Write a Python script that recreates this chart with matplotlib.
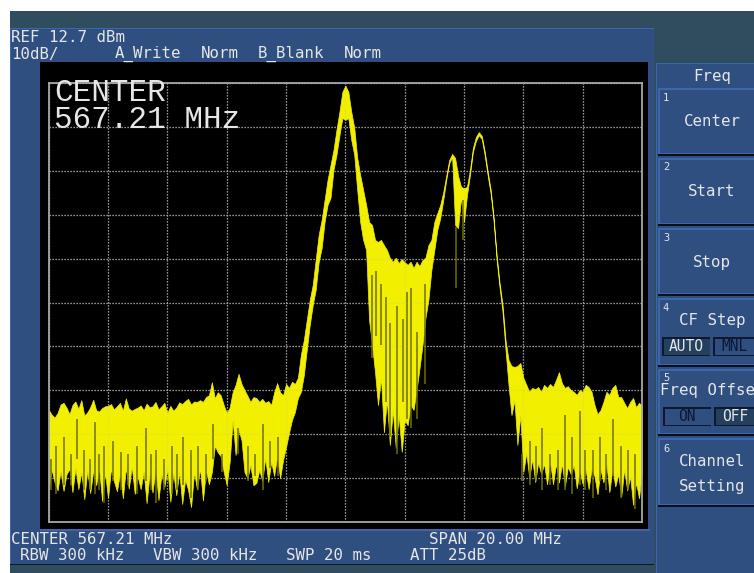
import numpy as np
import matplotlib
matplotlib.use('Agg')
import matplotlib.pyplot as plt
from matplotlib.patches import Rectangle

# Trace: one value per 0.1 MHz over the 20 MHz span (dBm)
center_mhz = 567.21
span_mhz = 20.0
ref_db = 12.7
db_per_div = 10

trace_top = [
    -61.8, -62.9, -63.6, -62.5, -60.6, -60.2, -61.3, -62.8, -60.7, -59.9,
    -61.6, -59.6, -63.1, -62.4, -61.2, -59.5, -61.9, -62.2, -61.4, -61.0,
    -60.9, -60.5, -61.7, -61.0, -60.2, -62.0, -59.2, -61.5, -62.0, -61.6,
    -61.3, -60.8, -61.9, -60.4, -61.2, -61.0, -60.0, -61.7, -61.0, -60.2,
    -62.5, -60.9, -62.0, -61.3, -60.1, -60.5, -59.8, -59.3, -60.6, -59.9,
    -60.0, -59.6, -60.0, -58.9, -58.5, -55.5, -59.2, -57.8, -58.5, -60.7,
    -62.5, -61.3, -57.8, -56.1, -53.6, -55.9, -57.3, -58.6, -60.0, -58.9,
    -59.1, -60.0, -59.3, -60.2, -59.8, -60.7, -57.8, -55.7, -57.8, -58.5,
    -55.9, -56.8, -55.4, -55.9, -54.5, -49.3, -45.9, -41.3, -36.7, -33.3,
    -27.6, -21.9, -18.5, -13.9, -9.3, -5.9, -2.5, 2.1, 6.2, 10.8,
    12.2, 10.8, 6.2, 2.6, -4.3, -8.2, -11.6, -15.0, -18.9, -19.6,
    -23.0, -23.5, -23.0, -24.2, -25.3, -27.1, -28.0, -27.1, -28.3, -27.4,
    -28.1, -28.7, -28.0, -29.4, -28.0, -29.0, -27.6, -27.1, -24.2, -23.0,
    -18.9, -16.9, -15.0, -12.1, -8.4, -4.8, -3.4, -4.3, -8.4, -10.9,
    -11.2, -10.9, -7.0, -2.0, 0.5, 1.6, 0.7, -2.9, -7.5, -11.6,
    -18.0, -26.5, -32.9, -37.9, -45.9, -50.4, -51.8, -52.0, -51.8, -51.1,
    -54.5, -56.1, -57.7, -56.8, -57.1, -56.6, -57.7, -56.1, -56.8, -55.9,
    -56.6, -55.0, -53.2, -55.7, -56.8, -56.4, -57.3, -57.7, -58.4, -57.3,
    -57.7, -56.1, -56.6, -57.7, -60.7, -62.8, -61.9, -60.0, -57.7, -58.4,
    -56.8, -56.1, -58.9, -58.9, -60.2, -61.4, -60.0, -59.1, -61.2, -60.2,
    -60.9,
]
trace_bottom = [
    -80.1, -75.4, -78.4, -80.2, -75.8, -80.3, -76.5, -75.3, -80.6, -75.1,
    -79.9, -76.0, -82.2, -75.6, -80.8, -75.7, -79.0, -75.2, -82.6, -76.2,
    -81.9, -75.3, -78.1, -80.4, -76.3, -82.0, -75.0, -79.8, -74.7, -81.0,
    -77.0, -79.9, -75.9, -83.1, -76.4, -80.7, -75.2, -82.4, -76.6, -79.4,
    -75.2, -82.8, -76.1, -81.3, -75.9, -83.3, -77.7, -80.1, -84.0, -76.0,
    -80.0, -75.1, -82.5, -75.5, -78.8, -76.0, -70.0, -71.5, -72.4, -76.0,
    -79.0, -73.7, -64.1, -72.1, -66.4, -68.7, -76.0, -77.4, -74.4, -79.0,
    -78.5, -75.5, -78.1, -72.8, -78.3, -73.7, -76.9, -72.4, -77.4, -73.3,
    -70.3, -67.1, -64.1, -62.3, -59.1, -57.7, -53.9, -48.1, -42.4, -37.9,
    -34.4, -28.1, -24.9, -18.9, -15.0, -13.4, -7.0, -3.6, 0.9, 4.8,
    4.4, 4.8, -0.2, -3.6, -11.6, -18.9, -23.0, -25.3, -41.3, -47.0,
    -53.2, -60.7, -54.5, -66.9, -59.6, -69.8, -61.9, -70.5, -63.0, -71.4,
    -64.1, -65.3, -60.7, -61.8, -57.3, -52.3, -47.0, -40.8, -36.7, -29.9,
    -25.3, -20.7, -18.0, -13.9, -9.3, -5.5, -4.1, -19.6, -20.3, -13.4,
    -18.9, -12.8, -8.2, -2.9, -0.4, 0.9, 0.0, -3.8, -8.4, -12.5,
    -18.9, -27.6, -34.0, -39.5, -48.1, -56.1, -63.0, -59.6, -69.8, -63.0,
    -76.0, -71.6, -77.4, -73.0, -78.3, -73.8, -76.5, -74.1, -78.8, -73.5,
    -78.8, -74.1, -78.4, -74.0, -79.3, -74.8, -76.5, -74.4, -79.7, -75.7,
    -78.8, -75.4, -79.9, -75.3, -77.0, -81.1, -75.4, -78.4, -74.1, -80.6,
    -75.3, -79.3, -76.5, -81.6, -75.4, -80.2, -77.0, -83.5, -78.4, -82.0,
    -75.5,
]

# Narrow dropouts that show darker over the trace
dropout_freq = [
    557.30, 557.46, 557.73, 557.95, 558.16, 558.40, 558.60, 558.77, 558.92, 559.07,
    559.38, 559.65, 559.90, 560.19, 560.49, 560.66, 560.83, 561.10, 561.37, 561.55,
    561.74, 562.01, 562.24, 562.50, 562.75, 563.05, 563.59, 563.93, 564.15, 564.43,
    564.67, 564.94,
    568.11, 568.41, 568.58, 568.71, 568.95, 569.15, 569.42, 569.62, 569.89, 568.26, 569.28,
    573.15, 573.43, 573.64, 573.84, 574.10, 574.37, 574.61, 574.84, 575.11, 575.30,
    575.55, 575.79, 576.00, 576.23, 576.50, 576.75, 576.97,
    570.94, 571.18,
]
dropout_high = [
    -73.0, -70.0, -68.0, -72.0, -64.0, -71.0, -73.0, -64.5, -72.0, -70.0,
    -69.0, -71.5, -72.0, -70.0, -66.0, -72.0, -71.0, -73.0, -70.0, -72.0,
    -68.0, -71.0, -70.0, -72.0, -65.0, -72.0, -66.0, -70.0, -72.0, -65.0,
    -69.0, -68.0,
    -31.0, -33.0, -36.0, -42.0, -38.0, -41.0, -34.0, -44.0, -33.0, -30.0, -35.0,
    -72.0, -69.0, -70.0, -66.0, -72.0, -71.0, -63.0, -68.0, -62.0, -71.0,
    -71.0, -68.0, -72.0, -64.0, -70.0, -71.0, -72.0,
    -20.0, -14.0,
]
dropout_low = [
    -80.0, -81.0, -79.0, -79.0, -73.0, -80.0, -80.0, -81.0, -80.0, -83.0,
    -78.0, -80.0, -79.0, -81.0, -78.0, -80.0, -83.0, -80.0, -81.0, -80.0,
    -79.0, -82.0, -80.0, -78.0, -73.0, -76.0, -72.0, -78.0, -77.0, -80.0,
    -75.0, -77.0,
    -50.0, -47.0, -60.0, -68.0, -72.0, -60.0, -66.0, -64.0, -56.0, -45.0, -64.0,
    -78.0, -79.0, -78.0, -80.0, -79.0, -80.0, -80.0, -81.0, -79.0, -80.0,
    -82.0, -78.0, -80.0, -77.0, -82.0, -80.0, -84.5,
    -34.0, -23.0,
]

# Screen readouts
readout_left = ['REF 12.7 dBm', '10dB/', 'CENTER 567.21 MHz']
big_readout = ['CENTER', '567.21 MHz']
softkeys = ['Center', 'Start', 'Stop']

freq = np.linspace(center_mhz - span_mhz / 2, center_mhz + span_mhz / 2, len(trace_top))

# Colours of the instrument window
BLUE = '#2f4f80'
LIGHT_BLUE = '#3d66ad'
TEAL = '#2f4d5e'
DARK_KEY = '#24405f'
TEXT = '#e6e6e6'
YELLOW = '#f2f000'

fig = plt.figure(figsize=(7.54, 5.73), dpi=100, facecolor='white')

# Window chrome, drawn in pixel coordinates
bg = fig.add_axes([0, 0, 1, 1])
bg.set_xlim(0, 754)
bg.set_ylim(573, 0)
bg.axis('off')


def box(x0, y0, x1, y1, color, z=1):
    bg.add_patch(Rectangle((x0, y0), x1 - x0, y1 - y0, facecolor=color, edgecolor='none', zorder=z))


def label(x, y, s, size=11.3, color=TEXT, ha='left', family='DejaVu Sans Mono'):
    bg.text(x, y, s, fontsize=size, color=color, ha=ha, va='center', family=family, zorder=5)


box(10, 11, 754, 573, TEAL)
box(10, 28, 654, 564, BLUE)
box(10, 28, 654, 29, LIGHT_BLUE)
box(10, 28, 11, 564, LIGHT_BLUE)
box(10, 564, 654, 565, '#101820')
box(656, 63, 754, 573, BLUE)
box(656, 63, 754, 64, LIGHT_BLUE)
box(656, 63, 657, 573, LIGHT_BLUE)
box(40, 62, 648, 529, 'black', 2)
box(40, 529, 650, 530.5, LIGHT_BLUE, 2)

# Soft keys
for y0, y1 in [(88, 155), (158, 225), (228, 295), (298, 366), (369, 435), (438, 506)]:
    box(658, y0, 754, y1, LIGHT_BLUE, 2)
    box(660, y0 + 2, 754, y1 - 2, BLUE, 3)
    box(658, y1 - 1.5, 754, y1 + 0.5, '#0b0f1a', 3)

for x0, y0, x1, y1, col in [(662, 337, 710, 356, DARK_KEY), (713, 337, 754, 356, BLUE),
                            (663, 407, 711, 426, BLUE), (714, 407, 754, 426, DARK_KEY)]:
    box(x0, y0, x1, y1, '#101830', 3)
    box(x0 + 1.5, y0 + 1.5, x1, y1 - 1, col, 4)

label(11, 38, readout_left[0])
label(11, 54, readout_left[1])
label(115, 54, 'A_Write')
label(201, 54, 'Norm')
label(258, 54, 'B_Blank')
label(344, 54, 'Norm')
label(11, 540, readout_left[2])
label(429, 540, 'SPAN 20.00 MHz')
label(20, 556, 'RBW 300 kHz')
label(153, 556, 'VBW 300 kHz')
label(286, 556, 'SWP 20 ms')
label(410, 556, 'ATT 25dB')

label(712, 77, 'Freq', ha='center')
for y, s in zip([122, 192, 262], softkeys):
    label(712, y, s, ha='center')
label(712, 320, 'CF Step', ha='center')
label(686, 346.5, 'AUTO', ha='center', size=10.5)
label(734, 346.5, 'MNL', ha='center', size=10.5, color='#0d1830')
label(660, 391, 'Freq Offse')
label(687, 416.5, 'ON', ha='center', size=10.5, color='#0d1830')
label(735, 416.5, 'OFF', ha='center', size=10.5)
label(712, 461, 'Channel', ha='center')
label(712, 486, 'Setting', ha='center')
for y, s in zip([98, 167, 238, 308, 378, 449], '123456'):
    label(666, y, s, size=7.5, ha='center')

# Spectrum screen
ax = fig.add_axes([48.7 / 754, 1 - 521.5 / 573, (642 - 48.7) / 754, (521.5 - 83.5) / 573], zorder=2)
ax.set_facecolor('black')
ax.patch.set_alpha(0)
ax.set_xlim(center_mhz - span_mhz / 2, center_mhz + span_mhz / 2)
ax.set_ylim(ref_db - 10 * db_per_div, ref_db)
x_div = np.linspace(center_mhz - span_mhz / 2, center_mhz + span_mhz / 2, 11)
y_div = ref_db - db_per_div * np.arange(11)
ax.set_xticks(x_div)
ax.set_yticks(y_div)
ax.tick_params(length=0, labelbottom=False, labelleft=False)
ax.grid(True, color='#b4b4b4', linestyle=(0, (1, 1.4)), linewidth=0.9)
ax.set_axisbelow(True)
for s in ax.spines.values():
    s.set_color('#a8a8a8')
    s.set_linewidth(1.3)

ax.fill_between(freq, trace_bottom, trace_top, color=YELLOW, linewidth=0.5, zorder=2)
ax.vlines(dropout_freq, dropout_low, dropout_high, color='#6f6f00', linewidth=1.1, zorder=3)

# Grid stays faintly visible through the trace
for v in x_div[1:-1]:
    ax.axvline(v, color='#b4b4b4', linestyle=(0, (1, 1.4)), linewidth=0.9, alpha=0.3, zorder=4)
for v in y_div[1:-1]:
    ax.axhline(v, color='#b4b4b4', linestyle=(0, (1, 1.4)), linewidth=0.9, alpha=0.3, zorder=4)

fig.text(54 / 754, 1 - 106.5 / 573, '\n'.join(big_readout), fontsize=22.3, color=TEXT,
         family='Liberation Mono', ha='left', va='center', linespacing=0.85, zorder=6)

fig.savefig('out.png', dpi=100, facecolor='white')
